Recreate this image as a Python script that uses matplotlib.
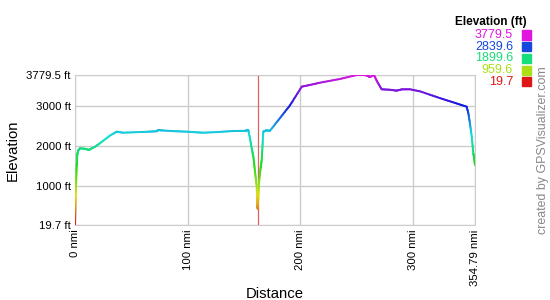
import numpy as np
import matplotlib
matplotlib.use("Agg")
import matplotlib.pyplot as plt
from matplotlib.collections import LineCollection
import colorsys

plt.rcParams['font.family'] = ['Liberation Sans', 'DejaVu Sans']

distance_nmi = [0, 0.4, 0.9, 1.5, 2.0, 2.7, 4.4, 8.9, 12.4, 13.3, 17.7, 22.2, 31, 37, 42.6,
                57.7, 66.5, 72.7, 73.6, 77.2, 88.7, 99.3, 106.4, 113.5, 126.8, 140.1, 150.8,
                153.7, 155.2, 156.7, 158.2, 159.7, 161.2, 161.7, 162.0, 162.6, 163.2, 164.4,
                165.6, 166.3, 167.0, 169.4, 173.0, 181.8, 190.7, 201.1, 208.4, 217.3, 235,
                249.9, 257.2, 260.1, 261.6, 265.2, 267.9, 272, 279.4, 285.2, 290, 297.1, 306,
                323.7, 337, 347.4, 348.9, 350.4, 351.9, 353.3, 354.0, 354.79]
elevation_ft = [19.7, 500, 1000, 1500, 1775, 1880, 1943, 1930, 1900, 1920, 1980, 2070, 2260, 2359, 2333,
                2350, 2360, 2370, 2400, 2390, 2370, 2359, 2345, 2333, 2350, 2376, 2380,
                2400, 2193, 1950, 1732, 1350, 981, 500, 430, 700, 1073, 1400,
                1649, 2000, 2359, 2390, 2384, 2700, 3020, 3487, 3530, 3587, 3680,
                3779.5, 3779.5, 3750, 3730, 3779.5, 3620, 3421, 3410, 3387, 3420, 3421, 3370,
                3200, 3080, 2985, 2820, 2550, 2233, 1817, 1700, 1524]

x_ticks = [0, 100, 200, 300, 354.79]
x_tick_labels = ["0 nmi", "100 nmi", "200 nmi", "300 nmi", "354.79 nmi"]
y_ticks = [19.7, 1000, 2000, 3000, 3779.5]
y_tick_labels = ["19.7 ft", "1000 ft", "2000 ft", "3000 ft", "3779.5 ft"]
legend_values = ["3779.5", "2839.6", "1899.6", "959.6", "19.7"]
legend_elev = [3779.5, 2839.6, 1899.6, 959.6, 19.7]
marker_distance = 162.3

ymin, ymax = 19.7, 3779.5


def elev_color(e):
    f = (e - ymin) / (ymax - ymin)
    f = min(max(f, 0), 1)
    return colorsys.hsv_to_rgb(f * 300 / 360, 0.9, 0.87)


fig = plt.figure(figsize=(5.5, 3.0), dpi=100)
ax = fig.add_axes([75 / 550, 0.25, 400 / 550, 0.5])

# finely subdivided segments for gradient drawing
segs, cols = [], []
for i in range(len(distance_nmi) - 1):
    x0, x1 = distance_nmi[i], distance_nmi[i + 1]
    y0, y1 = elevation_ft[i], elevation_ft[i + 1]
    n = 8
    for k in range(n):
        t0, t1 = k / n, (k + 1) / n
        xa, xb = x0 + (x1 - x0) * t0, x0 + (x1 - x0) * t1
        ya, yb = y0 + (y1 - y0) * t0, y0 + (y1 - y0) * t1
        segs.append([(xa, ya), (xb, yb)])
        cols.append(elev_color((ya + yb) / 2))
lc = LineCollection(segs, colors=cols, linewidths=1.4, capstyle='round', zorder=3)
ax.add_collection(lc)

ax.axvline(marker_distance, color='#e06060', lw=0.9, zorder=2)

ax.set_xlim(0, 354.79)
ax.set_ylim(ymin, ymax)
ax.set_xticks(x_ticks)
ax.set_xticklabels(x_tick_labels, rotation=90, fontsize=8.2)
ax.set_yticks(y_ticks)
ax.set_yticklabels(y_tick_labels, fontsize=8.2)
ax.tick_params(length=0, pad=3)
ax.grid(True, color='#cccccc', lw=1)
for s in ax.spines.values():
    s.set_color('#cccccc')
ax.set_axisbelow(True)
ax.set_ylabel("Elevation", fontsize=10.7, labelpad=5)
ax.set_xlabel("Distance", fontsize=10.7, labelpad=1)

# legend
fig.text(491 / 550, 1 - 21.5 / 300, "Elevation (ft)", fontsize=8.5, fontweight='bold',
         ha='center', va='center')
legend_y = [35, 46.7, 58.3, 70, 81.7]
for lab, yy, e in zip(legend_values, legend_y, legend_elev):
    c = elev_color(e)
    fig.text(513 / 550, 1 - yy / 300, lab, fontsize=9, color=c,
             ha='right', va='center')
    fig.patches.append(plt.Rectangle((522 / 550, 1 - (yy + 4.5) / 300), 8.5 / 550, 9 / 300,
                                     transform=fig.transFigure, color=c, figure=fig))

fig.text(543 / 550, 1 - 150 / 300, "created by GPSVisualizer.com", rotation=90,
         fontsize=8.9, color='#888888', ha='center', va='center')

fig.savefig("out.png", dpi=100)
